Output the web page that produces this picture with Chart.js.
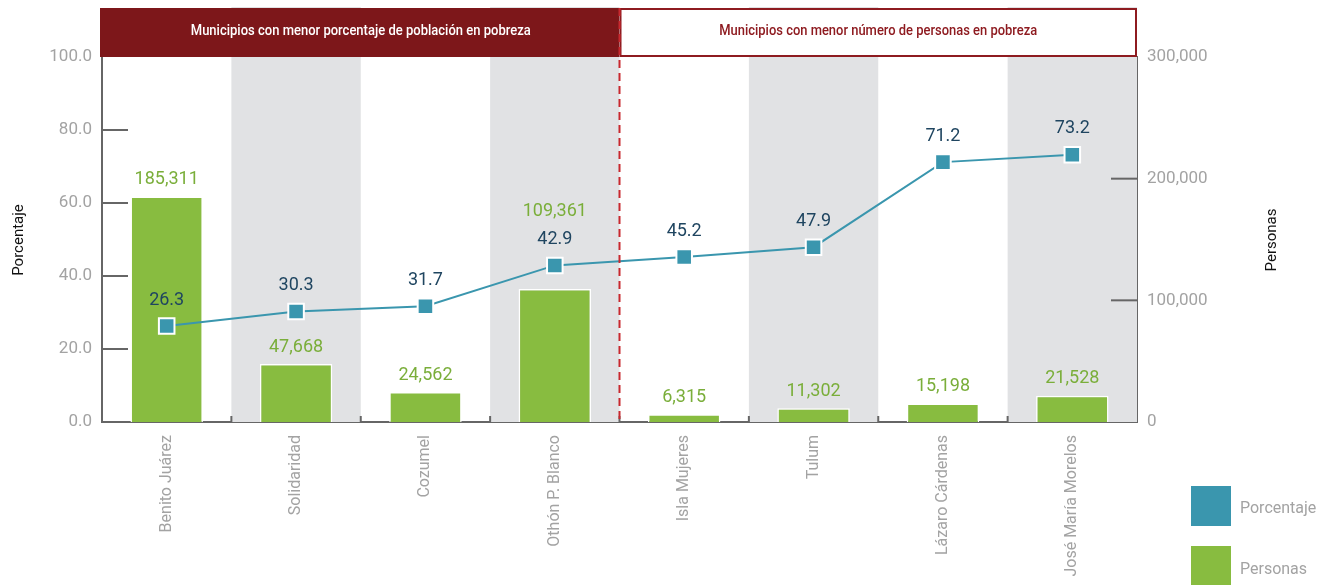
<!DOCTYPE html>
<html>
<head>
<meta charset="utf-8">
<script src="https://cdn.jsdelivr.net/npm/chart.js@4.4.1/dist/chart.umd.min.js"></script>
<style>
    html, body { margin: 0; padding: 0; background: #fff; }
    #wrap { width: 1319px; height: 585px; position: relative; }
</style>
</head>
<body>
<div id="wrap"><canvas id="chart" width="1319" height="585"></canvas></div>
<script>
// Data
const municipios = ['Benito Juárez', 'Solidaridad', 'Cozumel', 'Othón P. Blanco',
    'Isla Mujeres', 'Tulum', 'Lázaro Cárdenas', 'José María Morelos'];
const porcentaje = [26.3, 30.3, 31.7, 42.9, 45.2, 47.9, 71.2, 73.2];
const personas = [185311, 47668, 24562, 109361, 6315, 11302, 15198, 21528];
const leftTicks = [0, 20, 40, 60, 80, 100];
const rightTicks = [0, 100000, 200000, 300000];
const grupos = ['Municipios con menor porcentaje de población en pobreza',
    'Municipios con menor número de personas en pobreza'];

const GREEN = '#88BC40';
const TEAL = '#3A96AE';
const RED = '#7D171A';
const TICK_GRAY = '#a3a3a3';

const fmt = n => n.toLocaleString('en-US');

// condensed text: squeeze horizontally to the target width
function narrowText(ctx, text, cx, cy, targetW) {
    const w = ctx.measureText(text).width;
    ctx.save();
    ctx.translate(cx, cy);
    ctx.scale(Math.min(1, targetW / w), 1);
    ctx.fillText(text, 0, 0);
    ctx.restore();
}

// Draws bands, banners, tick marks, labels and legend
const decor = {
    id: 'decor',
    beforeDatasetsDraw(chart) {
        const { ctx, chartArea: a, scales: { x } } = chart;
        const w = (a.right - a.left) / municipios.length;
        ctx.save();
        ctx.fillStyle = '#E1E2E4';
        municipios.forEach((m, i) => {
            if (i % 2 === 1) {
                const cx = x.getPixelForValue(i);
                ctx.fillRect(cx - w / 2, 7, w, a.bottom - 7);
            }
        });
        ctx.restore();
    },
    afterDatasetsDraw(chart) {
        const { ctx, chartArea: a, scales: { x, y, y1 } } = chart;
        const w = (a.right - a.left) / municipios.length;
        const split = x.getPixelForValue(3) + w / 2;
        ctx.save();

        // tick marks inside the plot
        ctx.strokeStyle = '#666';
        ctx.lineWidth = 2;
        [20, 40, 60, 80].forEach(v => {
            const py = y.getPixelForValue(v);
            ctx.beginPath(); ctx.moveTo(a.left, py); ctx.lineTo(a.left + 26, py); ctx.stroke();
        });
        [100000, 200000].forEach(v => {
            const py = y1.getPixelForValue(v);
            ctx.beginPath(); ctx.moveTo(a.right - 26, py); ctx.lineTo(a.right, py); ctx.stroke();
        });
        for (let i = 1; i < municipios.length; i++) {
            const px = x.getPixelForValue(i) - w / 2;
            ctx.beginPath(); ctx.moveTo(px, a.bottom); ctx.lineTo(px, a.bottom - 6); ctx.stroke();
        }

        // banners
        ctx.fillStyle = RED;
        ctx.fillRect(a.left - 2, 8, split - a.left + 2, a.top - 8);
        ctx.fillStyle = '#fff';
        ctx.fillRect(split, 8, a.right - split, a.top - 8);
        ctx.strokeStyle = '#8E1B20';
        ctx.lineWidth = 2;
        ctx.strokeRect(split + 1, 9, a.right - split - 2, a.top - 10);

        ctx.font = '500 14px "Roboto", sans-serif';
        ctx.textAlign = 'center';
        ctx.textBaseline = 'middle';
        ctx.fillStyle = '#fff';
        narrowText(ctx, grupos[0], (a.left + split) / 2, 31, 340);
        ctx.fillStyle = '#8E1B20';
        narrowText(ctx, grupos[1], (split + a.right) / 2, 31, 318);

        // dashed divider
        ctx.strokeStyle = '#C8282E';
        ctx.lineWidth = 2;
        ctx.setLineDash([8, 5]);
        ctx.beginPath(); ctx.moveTo(split, 8); ctx.lineTo(split, a.bottom); ctx.stroke();
        ctx.setLineDash([]);
        ctx.restore();
    },
    afterDraw(chart) {
        const { ctx } = chart;
        const bars = chart.getDatasetMeta(1).data;
        const pts = chart.getDatasetMeta(0).data;
        ctx.save();
        ctx.textAlign = 'center';
        ctx.textBaseline = 'middle';
        ctx.font = '18px "Roboto", sans-serif';
        ctx.fillStyle = '#7AAE3A';
        bars.forEach((b, i) => {
            let ly = b.y - 17;
            const pl = pts[i].y - 26;
            // move the bar label above the point label when they would collide
            if (ly > pl - 24 && ly < pts[i].y + 14) ly = pl - 28;
            ctx.fillText(fmt(personas[i]), b.x, ly);
        });
        ctx.fillStyle = '#1F4560';
        pts.forEach((p, i) => ctx.fillText(porcentaje[i].toFixed(1), p.x, p.y - 26));

        // axis titles
        ctx.fillStyle = '#111';
        ctx.font = '15px "Roboto", sans-serif';
        ctx.save(); ctx.translate(19, 240); ctx.rotate(-Math.PI / 2); ctx.fillText('Porcentaje', 0, 0); ctx.restore();
        ctx.save(); ctx.translate(1272, 240); ctx.rotate(-Math.PI / 2); ctx.fillText('Personas', 0, 0); ctx.restore();

        // legend
        ctx.fillStyle = TEAL;
        ctx.fillRect(1191, 486, 40, 40);
        ctx.fillStyle = GREEN;
        ctx.fillRect(1191, 546, 40, 40);
        ctx.fillStyle = TICK_GRAY;
        ctx.textAlign = 'left';
        ctx.font = '16px "Roboto", sans-serif';
        ctx.fillText('Porcentaje', 1240, 509);
        ctx.fillText('Personas', 1240, 570);
        ctx.restore();
    }
};

const ctx = document.getElementById('chart').getContext('2d');
new Chart(ctx, {
    data: {
        labels: municipios,
        datasets: [{
            type: 'line',
            label: 'Porcentaje',
            data: porcentaje,
            yAxisID: 'y',
            borderColor: TEAL,
            borderWidth: 2,
            pointStyle: 'rect',
            pointRadius: 11,
            pointBackgroundColor: TEAL,
            pointBorderColor: '#fff',
            pointBorderWidth: 2,
            order: 0
        }, {
            type: 'bar',
            label: 'Personas',
            data: personas,
            yAxisID: 'y1',
            backgroundColor: GREEN,
            borderColor: '#fff',
            borderWidth: 1.5,
            categoryPercentage: 1,
            barPercentage: 0.56,
            order: 1
        }]
    },
    options: {
        responsive: false,
        animation: false,
        layout: { padding: { top: 57 } },
        plugins: { legend: { display: false }, tooltip: { enabled: false } },
        scales: {
            x: {
                grid: { display: false, drawTicks: false },
                border: { display: true, color: '#666', width: 2 },
                ticks: {
                    minRotation: 90, maxRotation: 90, padding: 13,
                    color: TICK_GRAY,
                    font: { family: 'Roboto', size: 16 }
                },
                afterFit: s => { s.height = 163; }
            },
            y: {
                position: 'left',
                min: 0, max: 100,
                afterBuildTicks: s => { s.ticks = leftTicks.map(v => ({ value: v })); },
                grid: { display: false, drawTicks: false },
                border: { display: true, color: '#666', width: 2 },
                ticks: {
                    padding: 10, color: TICK_GRAY,
                    font: { family: 'Roboto', size: 17 },
                    callback: v => v.toFixed(1)
                },
                afterFit: s => { s.width = 102; }
            },
            y1: {
                position: 'right',
                min: 0, max: 300000,
                afterBuildTicks: s => { s.ticks = rightTicks.map(v => ({ value: v })); },
                grid: { display: false, drawTicks: false },
                border: { display: true, color: '#666', width: 2 },
                ticks: {
                    padding: 10, color: TICK_GRAY,
                    font: { family: 'Roboto', size: 17 },
                    callback: v => fmt(v)
                },
                afterFit: s => { s.width = 182; }
            }
        }
    },
    plugins: [decor]
});
</script>
</body>
</html>
